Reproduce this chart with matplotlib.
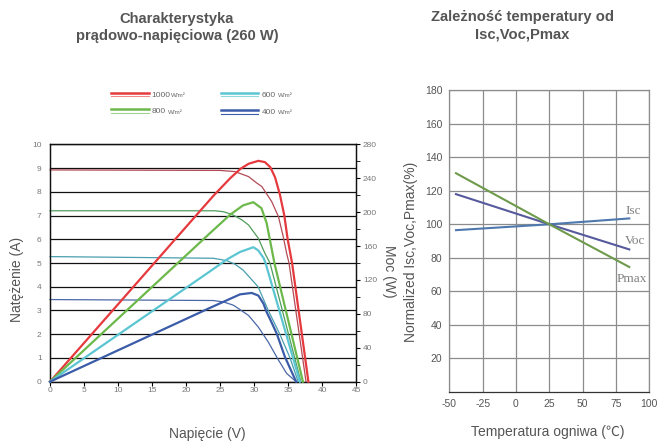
import matplotlib
matplotlib.use("Agg")
import matplotlib.pyplot as plt
from matplotlib.lines import Line2D
from matplotlib.ticker import MultipleLocator

plt.rcParams['font.family'] = ['Liberation Sans', 'DejaVu Sans']
plt.rcParams['axes.unicode_minus'] = False

# ---- left chart data: I-V (A) and P-V (W) curves per irradiance ----
irradiance = ["1000", "800", "600", "400"]

v_iv_1000 = [0, 25.0, 27.2, 29.2, 30.35, 31.15, 32.6, 33.6, 34.3, 34.8, 35.15, 37.65]
i_iv_1000 = [8.92, 8.9, 8.85, 8.64, 8.38, 8.22, 7.59, 6.95, 6.11, 5.41, 5.0, 0]
v_pv_1000 = [0, 24.0, 26.5, 28.0, 29.2, 30.64, 31.6, 32.4, 33.1, 33.8, 34.46, 34.95, 35.6, 38.0]
p_pv_1000 = [0, 219, 240, 251, 257, 260.5, 259, 253, 241, 221, 196, 168, 140, 0]

v_iv_800 = [0, 24.3, 25.5, 26.5, 27.2, 28.2, 29.2, 30.64, 31.6, 32.35, 36.9]
i_iv_800 = [7.2, 7.2, 7.16, 7.07, 6.98, 6.82, 6.6, 6.04, 5.41, 5.0, 0]
v_pv_800 = [0, 23.5, 26.5, 28.4, 29.9, 31.1, 31.86, 32.35, 33.0, 37.2]
p_pv_800 = [0, 175, 197, 208, 211.7, 204.6, 187, 167, 140, 0]

v_iv_600 = [0, 24.0, 26.0, 27.2, 28.4, 30.6, 32.1, 33.8, 35.3, 36.5]
i_iv_600 = [5.27, 5.2, 5.1, 4.95, 4.7, 4.0, 3.0, 2.0, 1.0, 0]
v_pv_600 = [0, 23.5, 25.98, 27.94, 29.9, 30.6, 31.4, 31.7, 36.75]
p_pv_600 = [0, 130, 144, 153, 158.6, 155, 146, 140, 0]

v_iv_400 = [0, 24.0, 25.5, 26.9, 27.2, 29.2, 30.64, 32.1, 33.6, 34.8, 36.2]
i_iv_400 = [3.46, 3.42, 3.36, 3.23, 3.18, 2.79, 2.3, 1.67, 0.91, 0.35, 0]
v_pv_400 = [0, 23.5, 26.0, 27.94, 29.66, 30.64, 31.4, 31.86, 32.35, 33.33, 34.56, 36.2]
p_pv_400 = [0, 87, 96, 103, 104.7, 101.6, 92, 82, 74, 57, 29, 0]

# ---- right chart data: normalized values vs cell temperature ----
temperature = [-45, 25, 85]
isc_norm = [96.5, 100, 103.5]
voc_norm = [118, 100, 85]
pmax_norm = [130.5, 100, 74.5]

W, H = 658, 441


def fx(px):
    return px / W


def fy(py):
    return 1 - py / H


fig = plt.figure(figsize=(W / 100, H / 100), dpi=100)

# ================= left chart =================
ax1 = fig.add_axes([fx(50), fy(381.7), 306 / W, 237.4 / H])
ax2 = ax1.twinx()

curves = [
    (v_iv_1000, i_iv_1000, v_pv_1000, p_pv_1000, "#b24a56", "#e5393e"),
    (v_iv_800, i_iv_800, v_pv_800, p_pv_800, "#4f9d5c", "#6cb84a"),
    (v_iv_600, i_iv_600, v_pv_600, p_pv_600, "#4a9eae", "#5bc5d2"),
    (v_iv_400, i_iv_400, v_pv_400, p_pv_400, "#4a68a8", "#3b5ca8"),
]
for v_iv, i_iv, v_pv, p_pv, c_thin, c_thick in curves:
    ax1.plot(v_iv, i_iv, color=c_thin, lw=0.9, clip_on=False, zorder=3)
    ax2.plot(v_pv, p_pv, color=c_thick, lw=1.6, clip_on=False, zorder=3)

ax1.set_xlim(0, 45)
ax1.set_ylim(0, 10)
ax2.set_ylim(0, 280)
ax1.set_xticks(range(0, 46, 5))
ax1.set_yticks(range(0, 11))
ax2.yaxis.set_major_locator(MultipleLocator(40))
ax2.set_yticks(range(20, 280, 40), minor=True)

ax1.set_axisbelow(True)
ax1.yaxis.grid(True, color="#111111", lw=0.9)
ax1.tick_params(axis="y", length=0, labelsize=6, labelcolor="#777777", pad=6)
ax1.tick_params(axis="x", length=3, direction="out", labelsize=6, labelcolor="#777777", pad=1)
ax2.tick_params(axis="y", which="both", length=3, direction="out", labelsize=6,
                labelcolor="#777777", pad=2)
for a in (ax1, ax2):
    for s in a.spines.values():
        s.set_color("#111111")
        s.set_linewidth(0.9)

ax1.set_ylabel("Natężenie (A)", fontsize=10, color="#555555")
ax1.yaxis.set_label_coords(-0.085, 0.43)
ax1.set_xlabel("Napięcie (V)", fontsize=10, color="#555555")
ax1.xaxis.set_label_coords(0.513, -0.19)
ax2.set_ylabel("Moc (W)", fontsize=10, color="#555555", rotation=270)
ax2.yaxis.set_label_coords(1.131, 0.466)

fig.text(fx(177), fy(27.5), "Charakterystyka\nprądowo-napięciowa (260 W)",
         ha="center", va="center", fontsize=10.6, fontweight="bold",
         color="#555555", linespacing=1.3)

# legend: thick (power) line with thin line beneath
legend_items = [
    (irradiance[0], "#e5393e", "#f08a8a", 110.7, 149, 92.7, 151.7, 170.7),
    (irradiance[1], "#6cb84a", "#9fd48f", 110.7, 149, 109.3, 151.7, 168.3),
    (irradiance[2], "#5bc5d2", "#8fd8e0", 220.7, 257.7, 92.7, 261.7, 277.7),
    (irradiance[3], "#3b5ca8", "#3b5ca8", 220.7, 257.7, 110.0, 261.7, 277.7),
]
for label, c1, c2, x0, x1, y, tx, ux in legend_items:
    fig.add_artist(Line2D([fx(x0), fx(x1)], [fy(y), fy(y)], color=c1, lw=1.8,
                          transform=fig.transFigure))
    fig.add_artist(Line2D([fx(x0), fx(x1)], [fy(y + 3.6), fy(y + 3.6)], color=c2,
                          lw=0.8, transform=fig.transFigure))
    fig.text(fx(tx), fy(y + 2.6), label, fontsize=6, color="#666666",
             ha="left", va="center")
    fig.text(fx(ux), fy(y + 3), "W/m²", fontsize=4.5, color="#666666",
             ha="left", va="center")

# ================= right chart =================
ax3 = fig.add_axes([fx(449.3), fy(391.8), 200 / W, 301.5 / H])
ax3.plot(temperature, isc_norm, color="#4e78ae", lw=1.5)
ax3.plot(temperature, voc_norm, color="#565a9c", lw=1.5)
ax3.plot(temperature, pmax_norm, color="#6e9a4c", lw=1.5)

serif = ["Liberation Serif", "DejaVu Serif"]
ax3.text(82.5, 108, "Isc", family=serif, fontsize=9.5, color="#808080", ha="left", va="center")
ax3.text(81.8, 90.2, "Voc", family=serif, fontsize=9.5, color="#808080", ha="left", va="center")
ax3.text(75.6, 67.3, "Pmax", family=serif, fontsize=9.5, color="#808080", ha="left", va="center")

ax3.set_xlim(-50, 100)
ax3.set_ylim(0, 180)
ax3.set_xticks(range(-50, 101, 25))
ax3.set_yticks(range(20, 181, 20))
ax3.set_axisbelow(True)
ax3.grid(True, color="#8c8c8c", lw=0.9)
ax3.tick_params(length=0, labelsize=7.5, labelcolor="#555555")
ax3.tick_params(axis="y", pad=5)
ax3.tick_params(axis="x", pad=5)
for name, s in ax3.spines.items():
    s.set_color("#8c8c8c")
    s.set_linewidth(0.9)
ax3.spines["bottom"].set_color("#333333")

ax3.set_ylabel("Normalized Isc,Voc,Pmax(%)", fontsize=10, color="#555555")
ax3.yaxis.set_label_coords(-0.157, 0.464)
ax3.set_xlabel("Temperatura ogniwa (℃)", fontsize=10, color="#555555",
               family=["Liberation Sans", "Noto Sans CJK SC"])
ax3.xaxis.set_label_coords(0.49, -0.11)

fig.text(fx(522.5), fy(26), "Zależność temperatury od\nIsc,Voc,Pmax",
         ha="center", va="center", fontsize=10.6, fontweight="bold",
         color="#555555", linespacing=1.3)

fig.savefig("out.png", dpi=100)
